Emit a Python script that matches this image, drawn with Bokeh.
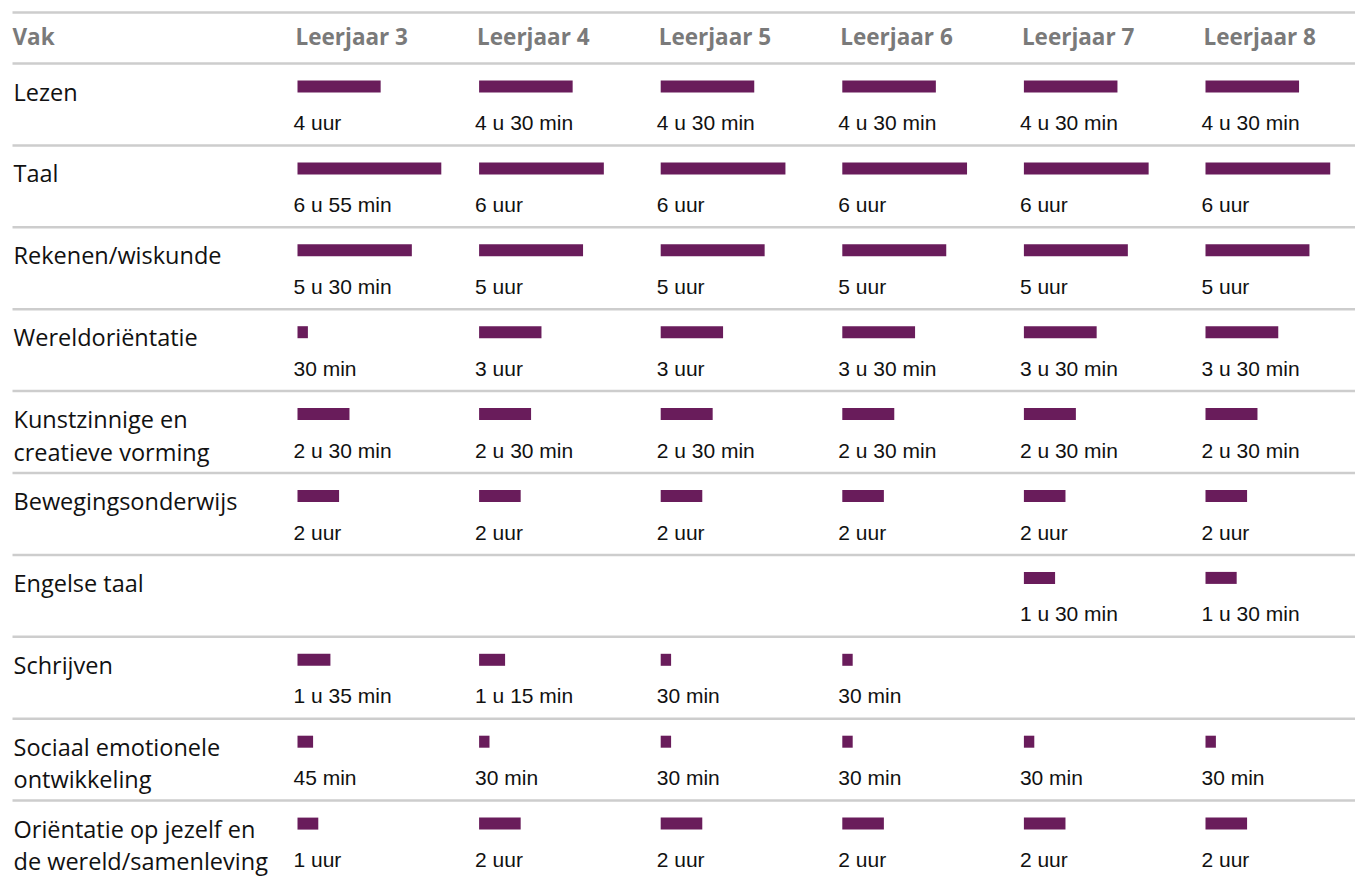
from bokeh.plotting import figure
from bokeh.models import Range1d, ColumnDataSource
from bokeh.core.properties import value
from bokeh.embed import file_html
from bokeh.resources import INLINE

# ---- data ----
header_first = "Vak"
years = ["Leerjaar 3", "Leerjaar 4", "Leerjaar 5", "Leerjaar 6", "Leerjaar 7", "Leerjaar 8"]
subjects = [
    "Lezen",
    "Taal",
    "Rekenen/wiskunde",
    "Wereldoriëntatie",
    "Kunstzinnige en\ncreatieve vorming",
    "Bewegingsonderwijs",
    "Engelse taal",
    "Schrijven",
    "Sociaal emotionele\nontwikkeling",
    "Oriëntatie op jezelf en\nde wereld/samenleving",
]
# minutes per week, per subject, for Leerjaar 3..8 (None = not taught)
lezen = [240, 270, 270, 270, 270, 270]
taal = [415, 360, 360, 360, 360, 360]
rekenen = [330, 300, 300, 300, 300, 300]
wereld = [30, 180, 180, 210, 210, 210]
kunst = [150, 150, 150, 150, 150, 150]
beweging = [120, 120, 120, 120, 120, 120]
engels = [None, None, None, None, 90, 90]
schrijven = [95, 75, 30, 30, None, None]
sociaal = [45, 30, 30, 30, 30, 30]
orientatie = [60, 120, 120, 120, 120, 120]
minutes = [lezen, taal, rekenen, wereld, kunst, beweging, engels, schrijven, sociaal, orientatie]


def fmt(m):
    h, mm = divmod(m, 60)
    if h == 0:
        return f"{mm} min"
    if mm == 0:
        return f"{h} uur"
    return f"{h} u {mm} min"


# ---- layout constants (pixel space) ----
W, H = 1355, 876
X0, Y0 = 0, 0
ROW0 = 63.0
ROW_H = 81.9
COL0 = 297.0
COL_W = 181.6
PX_PER_MIN = 0.3465
BAR_COLOR = "#691c5b"
LINE_COLOR = "#cdcdcd"
TXT_SHIFT = -8

p = figure(width=W, height=H, output_backend="svg", toolbar_location=None,
           x_range=Range1d(X0, X0 + W), y_range=Range1d(Y0 + H, Y0),
           min_border=0, outline_line_color=None)
p.axis.visible = False
p.grid.visible = False
p.background_fill_color = "white"
p.border_fill_color = "white"

# horizontal rules
line_ys = [12] + [ROW0 + i * ROW_H for i in range(len(subjects))]
p.segment(x0=[12] * len(line_ys), x1=[X0 + W] * len(line_ys), y0=line_ys, y1=line_ys,
          line_color=LINE_COLOR, line_width=2.5)

# header
hx = [12] + [COL0 - 2 + i * COL_W for i in range(len(years))]
p.text(x=hx, y=[44 + TXT_SHIFT] * len(hx), text=[header_first] + years,
       text_font=value("Open Sans"), text_font_style="bold", text_font_size="22.5px",
       text_color="#7a7a7a", text_baseline="alphabetic", text_align="left")

# row labels
lx, ly, lt = [], [], []
for i, s in enumerate(subjects):
    top = ROW0 + i * ROW_H
    for j, part in enumerate(s.split("\n")):
        lx.append(13)
        ly.append(top + 36 + j * 32.5 + TXT_SHIFT)
        lt.append(part)
p.text(x=lx, y=ly, text=lt, text_font=value("Open Sans"), text_font_size="23.5px",
       text_color="#111111", text_baseline="alphabetic", text_align="left")

# bars and value labels
bl, br, by, tx, ty, tt = [], [], [], [], [], []
for i, row in enumerate(minutes):
    top = ROW0 + i * ROW_H
    for c, m in enumerate(row):
        if m is None:
            continue
        x = COL0 + c * COL_W
        bl.append(x)
        br.append(x + m * PX_PER_MIN)
        by.append(top + 23)
        tx.append(x - 4)
        ty.append(top + 67 + TXT_SHIFT)
        tt.append(fmt(m))

src = ColumnDataSource(dict(left=bl, right=br, y=by))
p.hbar(y="y", left="left", right="right", height=12, source=src,
       fill_color=BAR_COLOR, line_color=None)
p.text(x=tx, y=ty, text=tt, text_font=value("Liberation Sans"), text_font_size="21px",
       text_color="#111111", text_baseline="alphabetic", text_align="left")

open("out.html", "w").write(file_html(p, INLINE))
